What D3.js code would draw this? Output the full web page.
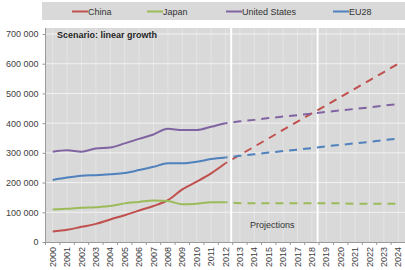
<!DOCTYPE html>
<html>
<head>
<meta charset="utf-8">
<script src="https://cdn.jsdelivr.net/npm/d3@7"></script>
<style>
  body { margin: 0; background: #fff; }
  svg text { font-family: "Liberation Sans", Arial, sans-serif; }
</style>
</head>
<body>
<script>
// historic years and projection years
var histYears = [2000, 2001, 2002, 2003, 2004, 2005, 2006, 2007, 2008, 2009, 2010, 2011, 2012];
var projYears = [2012, 2013, 2014, 2015, 2016, 2017, 2018, 2019, 2020, 2021, 2022, 2023, 2024];
var years = d3.range(2000, 2025);

var seriesNames = ["China", "Japan", "United States", "EU28"];
var seriesColors = ["#c0504d", "#9bbb59", "#8064a2", "#4f81bd"];

// historic values
var chinaHist = [35000, 41000, 51000, 61000, 76000, 90000, 106000, 121000, 141000, 177000, 203000, 231000, 265000];
var japanHist = [109000, 112000, 115000, 117000, 121000, 130000, 135000, 140000, 138000, 127000, 129000, 134000, 134000];
var usHist    = [304000, 309000, 304000, 315000, 318000, 332000, 347000, 362000, 381000, 377000, 377000, 388000, 400000];
var euHist    = [209000, 217000, 223000, 225000, 228000, 232000, 242000, 253000, 265000, 265000, 270000, 279000, 284000];

// projections (start at the 2012 value)
var chinaProj = [265000, 293000, 321000, 349000, 377000, 405000, 433000, 460000, 488000, 516000, 544000, 572000, 600000];
var japanProj = [134000, 130000, 130000, 130000, 130000, 130000, 130000, 130000, 130000, 129000, 129000, 129000, 129000];
var usProj    = [400000, 406000, 411000, 417000, 422000, 427000, 432000, 438000, 443000, 448000, 453000, 459000, 464000];
var euProj    = [284000, 290000, 295000, 301000, 306000, 311000, 316000, 322000, 327000, 332000, 337000, 343000, 348000];

var yTicks = [0, 100000, 200000, 300000, 400000, 500000, 600000, 700000];
var separatorYears = [2013, 2019];

(function() {
  var width = 405, height = 270;
  var left = 45.5, right = 405.5, top = 28, bottom = 242;

  var svg = d3.select("body").append("svg")
      .attr("width", width)
      .attr("height", height);

  var x = d3.scaleBand().domain(years).range([left, right]);
  var y = d3.scaleLinear().domain([0, 700000]).range([bottom, 34]);
  var cx = function(d) { return x(d) + x.bandwidth() / 2; };

  // legend band
  svg.append("rect")
      .attr("x", 42).attr("y", 2)
      .attr("width", width - 42).attr("height", 18)
      .attr("fill", "#d9d9d9");

  // plot background
  svg.append("rect")
      .attr("x", left).attr("y", top)
      .attr("width", right - left).attr("height", bottom - top)
      .attr("fill", "#d9d9d9");

  // vertical grid
  svg.append("g").selectAll("line")
      .data(years)
    .enter().append("line")
      .attr("x1", cx).attr("x2", cx)
      .attr("y1", top).attr("y2", bottom)
      .attr("stroke", "#e4e4e4")
      .attr("stroke-width", 1);

  // horizontal grid
  svg.append("g").selectAll("line")
      .data(yTicks.slice(1))
    .enter().append("line")
      .attr("x1", left).attr("x2", right)
      .attr("y1", function(d) { return y(d); })
      .attr("y2", function(d) { return y(d); })
      .attr("stroke", "#f2f2f2")
      .attr("stroke-width", 1);

  // separators between history / projections
  svg.append("g").selectAll("line")
      .data(separatorYears)
    .enter().append("line")
      .attr("x1", function(d) { return x(d) - 1.5; })
      .attr("x2", function(d) { return x(d) - 1.5; })
      .attr("y1", 20).attr("y2", bottom)
      .attr("stroke", "#ffffff")
      .attr("stroke-width", 2);

  // y axis
  var fmt = d3.formatLocale({decimal: ".", thousands: " ", grouping: [3], currency: ["", ""]}).format(",");
  var yAxis = svg.append("g")
      .attr("transform", "translate(" + left + ",0)")
      .call(d3.axisLeft(y).tickValues(yTicks).tickFormat(fmt).tickSize(3).tickPadding(4));
  yAxis.select(".domain").attr("stroke", "#9a9a9a").attr("d", "M0," + top + "V" + bottom);
  yAxis.selectAll(".tick line").attr("stroke", "#9a9a9a");
  yAxis.selectAll("text").attr("font-size", 9).attr("fill", "#404040");

  // x axis
  var xAxis = svg.append("g")
      .attr("transform", "translate(0," + bottom + ")")
      .call(d3.axisBottom(x).tickSize(3).tickSizeOuter(0));
  xAxis.select(".domain").attr("stroke", "#9a9a9a");
  xAxis.selectAll(".tick line").attr("stroke", "#9a9a9a")
      .attr("transform", "translate(" + (-x.bandwidth() / 2) + ",0)");
  xAxis.selectAll("text")
      .attr("font-size", 9).attr("fill", "#404040")
      .attr("text-anchor", "end")
      .attr("transform", "rotate(-90)")
      .attr("x", -5).attr("y", 0).attr("dy", "0.35em");

  // series lines
  var hist = [chinaHist, japanHist, usHist, euHist];
  var proj = [chinaProj, japanProj, usProj, euProj];

  var solid = d3.line()
      .x(function(d, i) { return cx(histYears[i]); })
      .y(function(d) { return y(d); })
      .curve(d3.curveMonotoneX);
  var dashed = d3.line()
      .x(function(d, i) { return cx(projYears[i]); })
      .y(function(d) { return y(d); });

  hist.forEach(function(vals, k) {
    svg.append("path")
        .attr("d", solid(vals))
        .attr("fill", "none")
        .attr("stroke", seriesColors[k])
        .attr("stroke-width", 2);
  });
  proj.forEach(function(vals, k) {
    svg.append("path")
        .attr("d", dashed(vals))
        .attr("fill", "none")
        .attr("stroke", seriesColors[k])
        .attr("stroke-width", 2)
        .attr("stroke-dasharray", "8,6")
        .attr("stroke-dashoffset", -8);
  });

  // annotations
  svg.append("text")
      .attr("x", 57).attr("y", 38)
      .attr("font-size", 9).attr("font-weight", "bold").attr("fill", "#262626")
      .text("Scenario: linear growth");
  svg.append("text")
      .attr("x", 250).attr("y", 228)
      .attr("font-size", 9).attr("fill", "#333")
      .text("Projections");

  // legend
  var legendX = [72, 147, 226, 333];
  var item = svg.append("g").selectAll("g")
      .data(seriesNames)
    .enter().append("g")
      .attr("transform", function(d, i) { return "translate(" + legendX[i] + ",11.5)"; });
  item.append("line")
      .attr("x2", 16)
      .attr("stroke", function(d, i) { return seriesColors[i]; })
      .attr("stroke-width", 2);
  item.append("text")
      .attr("x", 16).attr("dy", "0.35em")
      .attr("font-size", 9).attr("fill", "#333")
      .text(function(d) { return d; });
})();
</script>
</body>
</html>
